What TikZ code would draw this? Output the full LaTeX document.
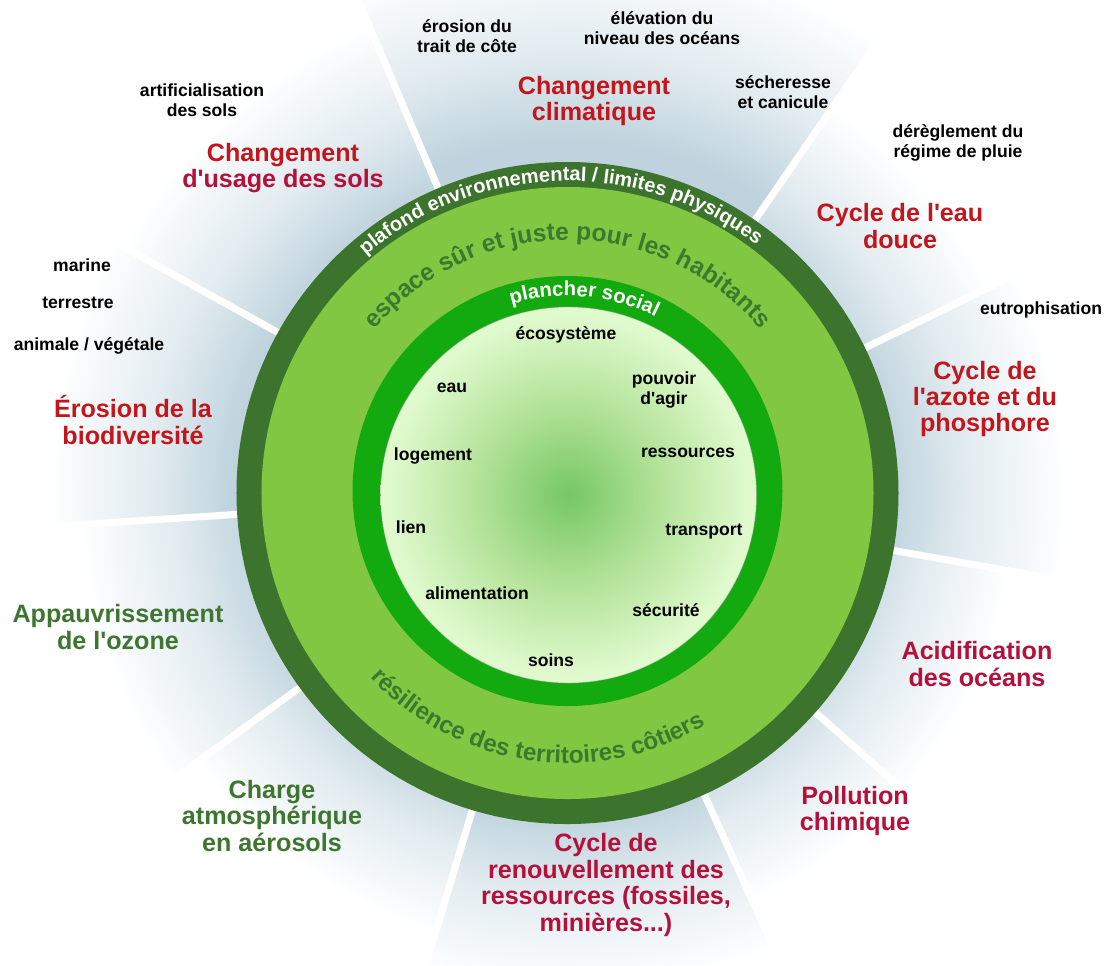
\documentclass[tikz,border=0pt]{standalone}
\usepackage{fontspec}
\setmainfont{Liberation Sans}
\usetikzlibrary{decorations.text}

\definecolor{skyband}{RGB}{190,211,221}
\definecolor{ceiling}{RGB}{60,116,46}
\definecolor{safezone}{RGB}{130,199,66}
\definecolor{floorring}{RGB}{18,170,14}
\definecolor{coremid}{RGB}{118,199,100}
\definecolor{corelight}{RGB}{178,226,152}
\definecolor{coreedge}{RGB}{224,250,206}
\definecolor{limitred}{RGB}{194,22,28}
\definecolor{limitcrimson}{RGB}{180,16,58}
\definecolor{ozonegreen}{RGB}{62,118,48}
\definecolor{zonetext}{RGB}{58,122,46}

% fades used for the outer sectors and the core
\pgfdeclareradialshading{bandfade}{\pgfpoint{0bp}{0bp}}{color(0bp)=(skyband); color(16bp)=(skyband); color(20bp)=(skyband!45!white); color(25bp)=(white); color(50bp)=(white)}
\pgfdeclareradialshading{corefade}{\pgfpoint{0bp}{0bp}}{color(0bp)=(coremid); color(12bp)=(corelight); color(24bp)=(coreedge); color(50bp)=(coreedge)}

\newcommand{\apos}{\textquotesingle}

\begin{document}
\begin{tikzpicture}[x=0.02cm, y=0.02cm,
    pressure/.style={font=\bfseries\fontsize{10}{11.2}\selectfont, align=center},
    boundary/.style={font=\bfseries\fontsize{14.3}{15}\selectfont, align=center, text=limitred},
    spoke/.style={white, line width=4pt}]
    \useasboundingbox (-567.5, -472) rectangle (543.5, 493);

    % Outer sectors (angle from, angle to, radius where the fade ends)
    \foreach \a/\b/\r in {55.5/113/550, 113/151/510, 151/183.7/520, 183.7/216/490,
                          216/253.3/460, 253.3/294.4/500, 294.4/318.5/450,
                          318.5/350/450, -10/26/500, 26/55.5/470} {
      \begin{scope}
        \clip (0, 0) -- (\a:900) arc (\a:\b:900) -- cycle;
        \shade [shading=bandfade] (0, 0) circle (\r);
      \end{scope}
    }

    % Spokes between the sectors
    \foreach \a in {113, 55.5, 26, -10, -41.5, -65.6, -106.7, -144, -176.3, 151} {
      \draw [spoke] (\a:325) -- (\a:620);
    }

    % Rings
    \fill [ceiling] (0, 0) circle (331);
    \fill [safezone] (0, 0) circle (306);
    \fill [floorring] (0, 2) circle (215);
    \shade [shading=corefade] (1, -2) circle (188);
    \draw [black!40, opacity=0.4, line width=0.5pt] (1, -2) circle (188);

    % Ring captions
    \path [decorate, decoration={text along path, text align=center, text color=white,
           text={|\bfseries\fontsize{11.4}{12}\selectfont|plafond environnemental / limites physiques}}]
          (171.5:312) arc (171.5:11.5:312);
    \path [decorate, decoration={text along path, text align=center, text color=zonetext,
           text={|\bfseries\fontsize{14}{14}\selectfont|espace sûr et juste pour les habitants}}]
          (170:253) arc (170:10:253);
    \path [decorate, decoration={text along path, text align=center, text color=white,
           text={|\bfseries\fontsize{11.6}{12}\selectfont|plancher social}}]
          (165:197) arc (165:5:197);
    \path [decorate, decoration={text along path, text align=center, text color=zonetext,
           text={|\bfseries\fontsize{13.8}{14}\selectfont|résilience des territoires côtiers}}]
          (197:270) arc (197:327:270);

    % Social needs
    \foreach \n/\x/\y/\t in {eco/-1.5/158/écosystème, eau/-115.5/105/eau,
                             agir/96.5/103/{pouvoir\\d\apos agir}, logement/-134.5/37/logement,
                             ressources/120.5/40/ressources, lien/-156.5/-34/lien,
                             transport/136.5/-39/transport, alim/-90.5/-100/alimentation,
                             secu/98.5/-117/sécurité, soins/-16.5/-167/soins} {
      \path (\x, \y) node [pressure] (\n) {\t};
    }

    % Boundaries
    \path (-284.5, 325) node [boundary] (landuse) {Changement\\\textcolor{limitcrimson}{d\apos usage des sols}};
    \path (26.5, 392) node [boundary] (climate) {Changement\\climatique};
    \path (332.5, 267) node [boundary] (freshwater) {Cycle de l\apos eau\\douce};
    \path (417.5, 94) node [boundary] (nitrogen) {Cycle de\\l\apos azote et du\\phosphore};
    \path (409.5, -171) node [boundary, text=limitcrimson] (acid) {Acidification\\des océans};
    \path (287.5, -318) node [boundary, text=limitcrimson] (pollution) {Pollution\\chimique};
    \path (38.5, -392) node [boundary, text=limitcrimson] (resources) {Cycle de\\renouvellement des\\ressources (fossiles,\\minières...)};
    \path (-434.5, 73) node [boundary] (biodiv) {Érosion de la\\biodiversité};
    \path (-449.5, -134) node [boundary, text=ozonegreen] (ozone) {Appauvrissement\\de l\apos ozone};
    \path (-295.5, -323) node [boundary, text=ozonegreen] (aerosols) {Charge\\atmosphérique\\en aérosols};

    % Pressures
    \path (-100.5, 457) node [pressure] (coast) {érosion du\\trait de côte};
    \path (94.5, 465) node [pressure] (sealevel) {élévation du\\niveau des océans};
    \path (215.5, 401) node [pressure] (drought) {sécheresse\\et canicule};
    \path (390.5, 350) node [pressure] (rain) {dérèglement du\\régime de pluie};
    \path (473.5, 183) node [pressure] (eutro) {eutrophisation};
    \path (-365.5, 393) node [pressure] (soil) {artificialisation\\des sols};
    \path (-485.5, 228) node [pressure] (marine) {marine};
    \path (-489.5, 190) node [pressure] (land) {terrestre};
    \path (-478.5, 147) node [pressure] (species) {animale / végétale};
\end{tikzpicture}
\end{document}
